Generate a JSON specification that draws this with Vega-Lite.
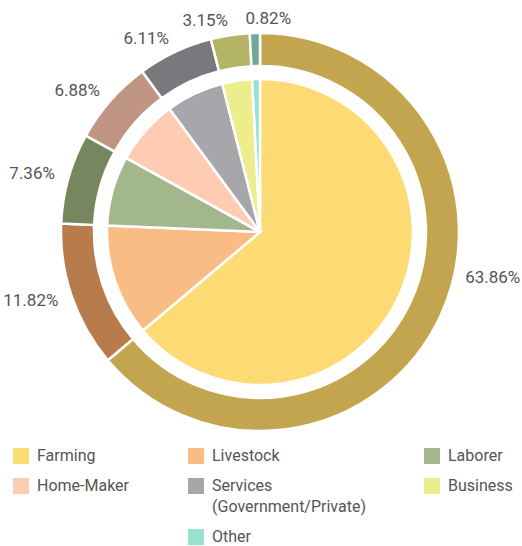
{
  "$schema": "https://vega.github.io/schema/vega-lite/v6.json",
  "width": 520,
  "height": 464,
  "autosize": {"type": "none"},
  "padding": {"left": 0, "top": 0, "right": 2, "bottom": 82},
  "background": "white",
  "config": {"view": {"stroke": null}, "font": "Roboto", "style": {"guide-label": {"lineHeight": 21}}},
  "data": {
    "values": [
      {"idx": 1, "category": "Farming", "value": 63.86},
      {"idx": 2, "category": "Livestock", "value": 11.82},
      {"idx": 3, "category": "Laborer", "value": 7.36},
      {"idx": 4, "category": "Home-Maker", "value": 6.88},
      {"idx": 5, "category": "Services", "value": 6.11},
      {"idx": 6, "category": "Business", "value": 3.15},
      {"idx": 7, "category": "Other", "value": 0.82}
    ]
  },
  "transform": [{"calculate": "format(datum.value, '.2f') + '%'", "as": "label"}],
  "encoding": {
    "theta": {"field": "value", "type": "quantitative", "stack": true},
    "order": {"field": "idx", "type": "quantitative"}
  },
  "layer": [
    {
      "mark": {"type": "arc", "outerRadius": 199, "innerRadius": 166, "stroke": "white", "strokeWidth": 2.5},
      "encoding": {
        "color": {
          "field": "category", "type": "nominal",
          "scale": {
            "domain": ["Farming", "Livestock", "Laborer", "Home-Maker", "Services", "Business", "Other"],
            "range": ["#C4A54F", "#B77B4C", "#768760", "#C09482", "#79787D", "#B4B466", "#6CA99B"]
          },
          "legend": null
        }
      }
    },
    {
      "mark": {"type": "arc", "outerRadius": 153, "stroke": "white", "strokeWidth": 2.5},
      "encoding": {
        "color": {
          "field": "category", "type": "nominal",
          "scale": {
            "domain": ["Farming", "Livestock", "Laborer", "Home-Maker", "Services", "Business", " ", "Other"],
            "range": ["#FDDB74", "#F9BC84", "#A2B88C", "#FFCBB3", "#A7A7AB", "#EDED8E", "#FFFFFF", "#98E1CF"]
          },
          "legend": {
            "orient": "none",
            "legendX": 13,
            "legendY": 448,
            "direction": "horizontal",
            "columns": 3,
            "title": null,
            "symbolType": "square",
            "symbolSize": 256,
            "symbolStrokeWidth": 0,
            "labelFontSize": 16,
            "labelColor": "#555555",
            "labelFont": "Roboto",
            "labelOffset": 8,
            "labelLimit": 300,
            "columnPadding": 58,
            "rowPadding": 14,
            "labelExpr": "datum.label === 'Services' ? ['Services', '(Government/Private)'] : datum.label"
          }
        }
      }
    },
    {
      "mark": {"type": "text", "radius": 213, "align": "right", "baseline": "middle", "fontSize": 17, "color": "#555555", "font": "Roboto"},
      "encoding": {
        "text": {"condition": {"test": "datum.category === 'Farming' || datum.category === 'Other'", "value": ""}, "field": "label", "type": "nominal"}
      }
    },
    {
      "mark": {"type": "text", "radius": 213, "dx": 12, "dy": -44, "align": "left", "baseline": "middle", "fontSize": 17, "color": "#555555", "font": "Roboto"},
      "encoding": {
        "text": {"condition": {"test": "datum.category !== 'Farming'", "value": ""}, "field": "label", "type": "nominal"}
      }
    },
    {
      "mark": {"type": "text", "radius": 213, "dx": -9, "align": "left", "baseline": "middle", "fontSize": 17, "color": "#555555", "font": "Roboto"},
      "encoding": {
        "text": {"condition": {"test": "datum.category !== 'Other'", "value": ""}, "field": "label", "type": "nominal"}
      }
    }
  ],
  "resolve": {"scale": {"color": "independent"}}
}
